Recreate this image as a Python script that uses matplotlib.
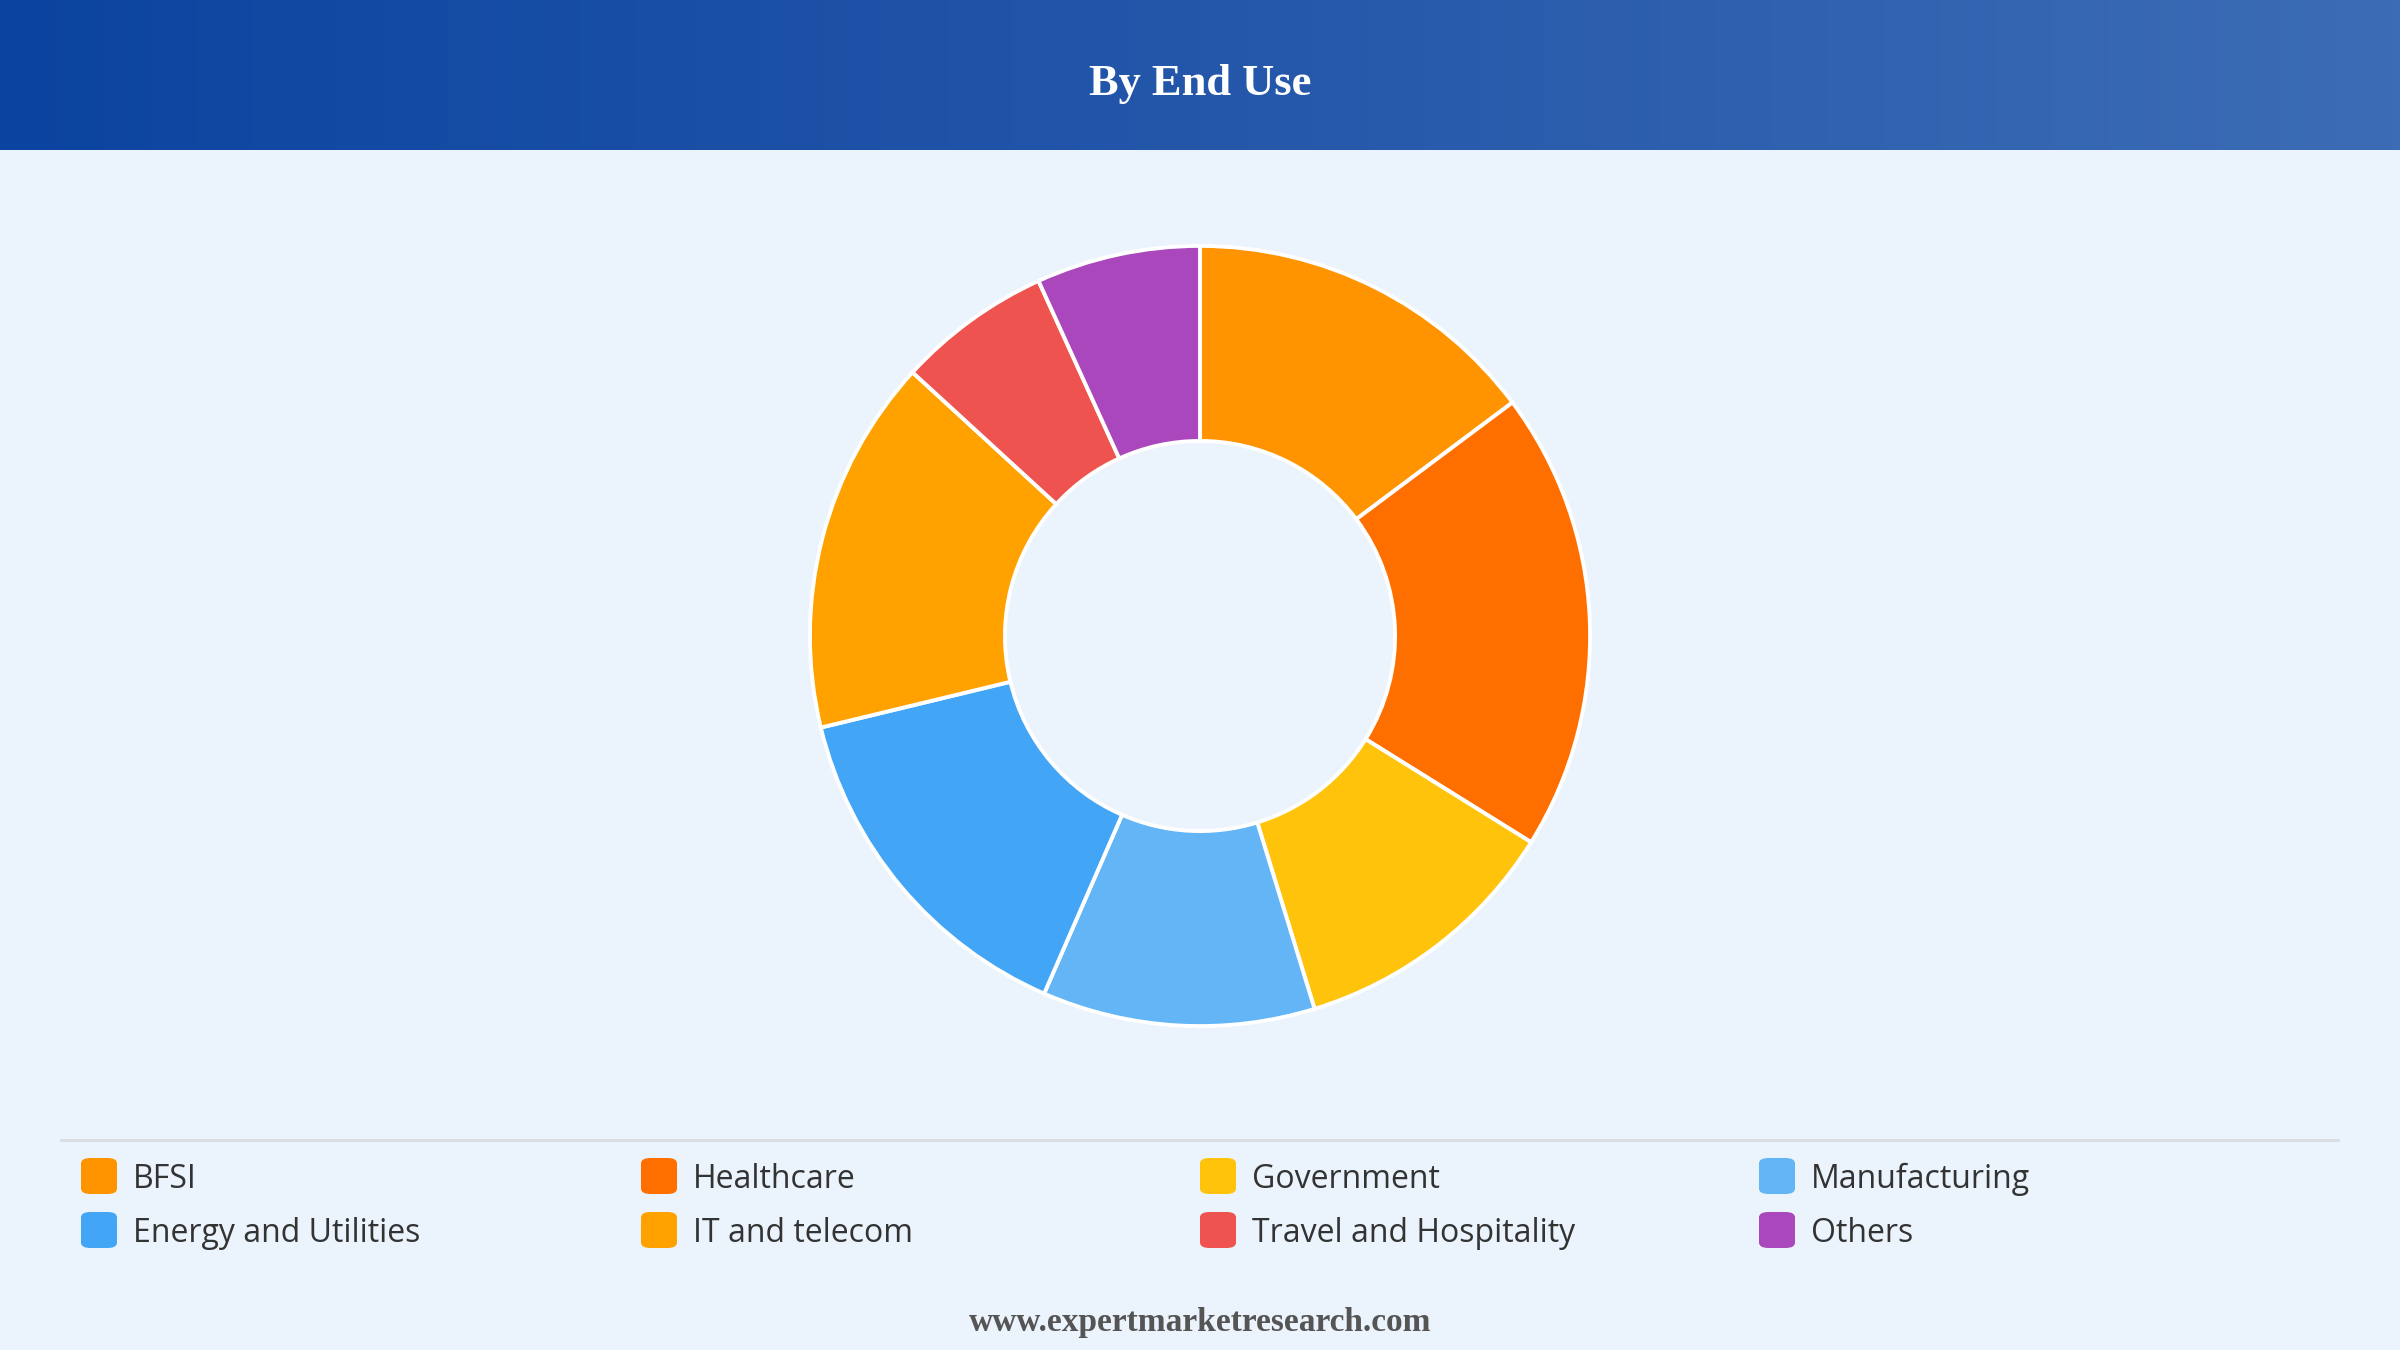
import numpy as np
import matplotlib.pyplot as plt
from matplotlib.patches import FancyBboxPatch
from matplotlib.lines import Line2D
from matplotlib.colors import LinearSegmentedColormap

labels = ['BFSI', 'Healthcare', 'Government', 'Manufacturing',
          'Energy and Utilities', 'IT and telecom', 'Travel and Hospitality', 'Others']
shares = [14.8, 19.1, 11.4, 11.3, 14.7, 15.6, 6.4, 6.8]
colors = ['#FF9300', '#FF6F00', '#FFC30B', '#64B5F6',
          '#42A5F5', '#FFA200', '#EF5350', '#AB47BC']

W, H = 2400, 1350
bg = '#EBF3FC'

fig = plt.figure(figsize=(24, 13.5), dpi=100, facecolor=bg)

# header band with horizontal gradient
hdr_h = 150
hax = fig.add_axes([0, 1 - hdr_h / H, 1, hdr_h / H])
grad = np.linspace(0, 1, 256).reshape(1, -1)
cmap = LinearSegmentedColormap.from_list('hdr', ['#0B44A0', '#2457AA', '#3C6CB5'])
hax.imshow(grad, aspect='auto', cmap=cmap, extent=[0, 1, 0, 1])
hax.set_axis_off()
fig.text(0.5, 1 - 84 / H, 'By End Use', ha='center', va='center', color='white',
         fontsize=32, fontweight='bold', family='Liberation Serif')

# donut
cx, cy, R = 1200, 636, 394
ax = fig.add_axes([(cx - R) / W, 1 - (cy + R) / H, 2 * R / W, 2 * R / H])
ax.pie(shares, colors=colors, startangle=90, counterclock=False, radius=1,
       wedgeprops=dict(width=0.5, edgecolor='white', linewidth=2.8))
ax.set_xlim(-1.01, 1.01)
ax.set_ylim(-1.01, 1.01)
ax.set_axis_off()

# separator line above legend
fig.add_artist(Line2D([61 / W, 2338 / W], [1 - 1140 / H] * 2, color='#DADDE2', lw=2.2))

# legend, 4 columns x 2 rows
col_x = [81, 641, 1200, 1759]
row_y = [1176, 1230]
sq = 36
for i, (lab, c) in enumerate(zip(labels, colors)):
    x = col_x[i % 4]
    y = row_y[i // 4]
    box = FancyBboxPatch((x / W, 1 - (y + sq / 2) / H), sq / W, sq / H,
                         boxstyle='round,pad=0,rounding_size=0.004',
                         transform=fig.transFigure, facecolor=c, edgecolor='none')
    fig.add_artist(box)
    fig.text((x + 52) / W, 1 - (y + 3) / H, lab, ha='left', va='center',
             fontsize=23, color='#333333', family='Open Sans')

fig.text(0.5, 1 - 1323 / H, 'www.expertmarketresearch.com', ha='center', va='center',
         fontsize=24, fontweight='bold', color='#555555', family='Liberation Serif')

fig.savefig('out.png', dpi=100, facecolor=bg)
